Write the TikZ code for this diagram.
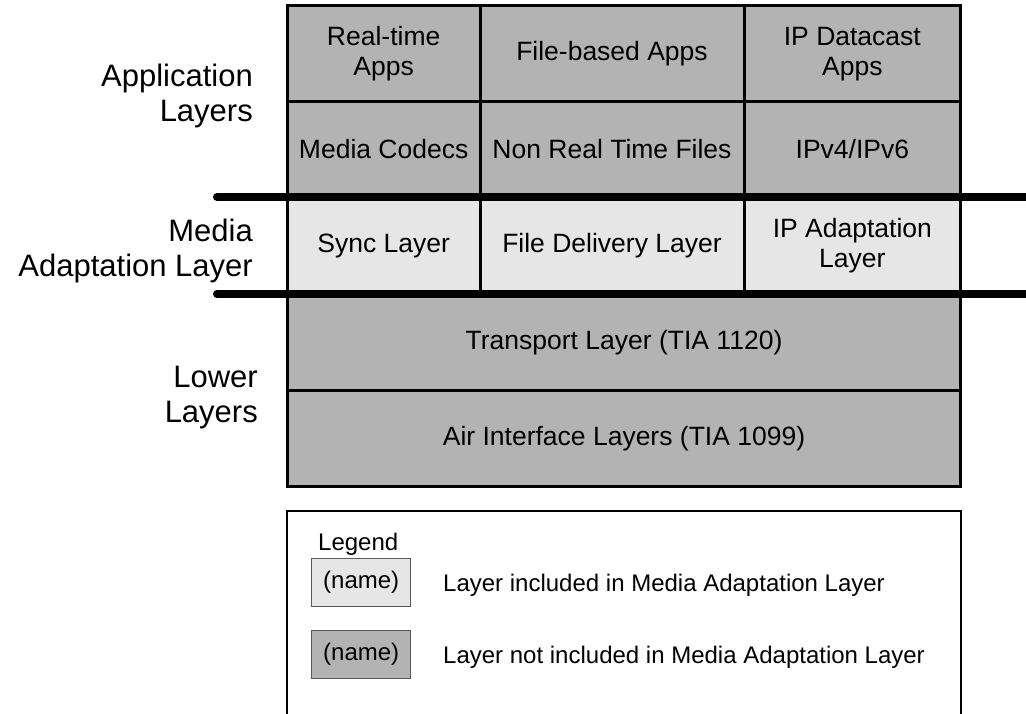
\documentclass[tikz,border=0pt]{standalone}
\usepackage{fontspec}
\setmainfont{Liberation Sans}
\usepackage{tikz}
\usetikzlibrary{positioning}
\definecolor{darkcell}{RGB}{179,179,179}
\definecolor{lightcell}{RGB}{230,230,230}

\begin{document}
\begin{tikzpicture}[x=1pt,y=-1pt,
	cell/.style={draw,line width=3pt,inner sep=0pt,outer sep=0pt,align=center,font=\fontsize{26.5}{30}\selectfont},
	dark/.style={cell,fill=darkcell},
	light/.style={cell,fill=lightcell},
	side/.style={anchor=east,align=right,inner sep=0pt,font=\fontsize{31}{35}\selectfont},
	sep/.style={line width=8pt,line cap=round},
	key/.style={draw=black!65,line width=1pt,inner sep=0pt,minimum width=99pt,minimum height=48.4pt,font=\fontsize{24}{28}\selectfont},
	legtext/.style={anchor=base west,inner sep=0pt,font=\fontsize{24}{28}\selectfont}]
		\useasboundingbox (0,0) rectangle (1026,713);
		% application layers
		\node[dark,minimum width=192.7pt,minimum height=96pt] (RT) at (383.65,53.7) {Real-time\\Apps};
		\node[dark,minimum width=264pt,minimum height=96pt] (FB) at (612,53.7) {File-based Apps};
		\node[dark,minimum width=216.7pt,minimum height=96pt] (IPD) at (852.35,53.7) {IP Datacast\\Apps};
		\node[dark,minimum width=192.7pt,minimum height=95.3pt] (MC) at (383.65,149.35) {Media Codecs};
		\node[dark,minimum width=264pt,minimum height=95.3pt] (NRT) at (612,149.35) {Non Real Time Files};
		\node[dark,minimum width=216.7pt,minimum height=95.3pt] (IP) at (852.35,149.35) {IPv4/IPv6};
		% media adaptation layer
		\node[light,minimum width=192.7pt,minimum height=97pt] (SL) at (383.65,245.5) {Sync Layer};
		\node[light,minimum width=264pt,minimum height=97pt] (FDL) at (612,245.5) {File Delivery Layer};
		\node[light,minimum width=216.7pt,minimum height=97pt] (IPA) at (852.35,245.5) {IP Adaptation\\Layer};
		% lower layers
		\node[dark,minimum width=673.4pt,minimum height=96.7pt] (TL) at (624,342.35) {Transport Layer (TIA 1120)};
		\node[dark,minimum width=673.4pt,minimum height=96pt] (AIL) at (624,438.7) {Air Interface Layers (TIA 1099)};
		%
		\coordinate (S1) at (217,197);
		\coordinate (S1') at (1034,197);
		\coordinate (S2) at (217,294);
		\coordinate (S2') at (1034,294);
		\draw[sep] (S1) -- (S1');
		\draw[sep] (S2) -- (S2');
		%
		\node[side] (app) at (253,96) {Application\\Layers};
		\node[side] (mal) at (253,251) {Media\\Adaptation Layer};
		\node[side] (low) at (258,397.5) {Lower\\Layers};
		% legend
		\node[draw,line width=2pt,inner sep=0pt,outer sep=0pt,anchor=north west,minimum width=673.4pt,minimum height=230pt] (legend) at (287.3,510.7) {};
		\node[legtext] (title) at (318,550) {Legend};
		\node[key,fill=lightcell] (K1) at (361.2,582.5) {(name)};
		\node[key,fill=darkcell] (K2) at (361.2,654.2) {(name)};
		\node[legtext] (L1) at (443,591.7) {Layer included in Media Adaptation Layer};
		\node[legtext] (L2) at (443,663) {Layer not included in Media Adaptation Layer};
\end{tikzpicture}
\end{document}
